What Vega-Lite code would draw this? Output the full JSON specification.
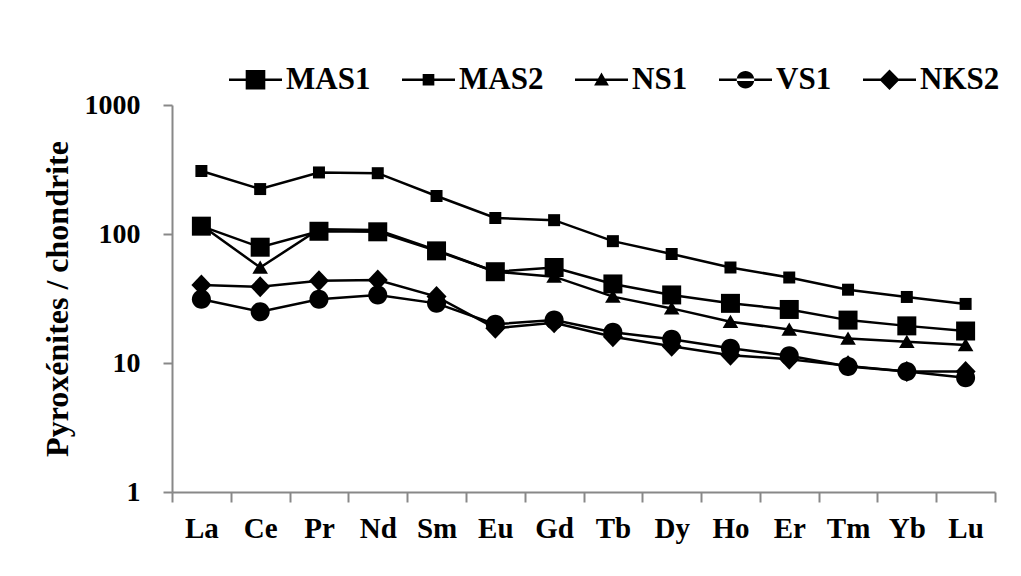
{
  "$schema": "https://vega.github.io/schema/vega-lite/v6.json",
  "width": 823,
  "height": 387,
  "autosize": {"type": "none"},
  "padding": {"left": 172, "top": 105, "right": 26, "bottom": 84},
  "background": "white",
  "config": {
    "view": {"stroke": null},
    "font": "Liberation Serif"
  },
  "data": {
    "values": [
      {"el": "La", "sample": "MAS1", "v": 115}, {"el": "Ce", "sample": "MAS1", "v": 79}, {"el": "Pr", "sample": "MAS1", "v": 105}, {"el": "Nd", "sample": "MAS1", "v": 104}, {"el": "Sm", "sample": "MAS1", "v": 74}, {"el": "Eu", "sample": "MAS1", "v": 51}, {"el": "Gd", "sample": "MAS1", "v": 55}, {"el": "Tb", "sample": "MAS1", "v": 41}, {"el": "Dy", "sample": "MAS1", "v": 33.7}, {"el": "Ho", "sample": "MAS1", "v": 29}, {"el": "Er", "sample": "MAS1", "v": 26}, {"el": "Tm", "sample": "MAS1", "v": 21.5}, {"el": "Yb", "sample": "MAS1", "v": 19.4}, {"el": "Lu", "sample": "MAS1", "v": 17.7},
      {"el": "La", "sample": "MAS2", "v": 308}, {"el": "Ce", "sample": "MAS2", "v": 223}, {"el": "Pr", "sample": "MAS2", "v": 300}, {"el": "Nd", "sample": "MAS2", "v": 296}, {"el": "Sm", "sample": "MAS2", "v": 197}, {"el": "Eu", "sample": "MAS2", "v": 133}, {"el": "Gd", "sample": "MAS2", "v": 128}, {"el": "Tb", "sample": "MAS2", "v": 88}, {"el": "Dy", "sample": "MAS2", "v": 70}, {"el": "Ho", "sample": "MAS2", "v": 55}, {"el": "Er", "sample": "MAS2", "v": 46}, {"el": "Tm", "sample": "MAS2", "v": 37}, {"el": "Yb", "sample": "MAS2", "v": 32.5}, {"el": "Lu", "sample": "MAS2", "v": 28.7},
      {"el": "La", "sample": "NS1", "v": 117}, {"el": "Ce", "sample": "NS1", "v": 55}, {"el": "Pr", "sample": "NS1", "v": 108.7}, {"el": "Nd", "sample": "NS1", "v": 107.4}, {"el": "Sm", "sample": "NS1", "v": 75}, {"el": "Eu", "sample": "NS1", "v": 51}, {"el": "Gd", "sample": "NS1", "v": 46.7}, {"el": "Tb", "sample": "NS1", "v": 32.7}, {"el": "Dy", "sample": "NS1", "v": 26.5}, {"el": "Ho", "sample": "NS1", "v": 20.9}, {"el": "Er", "sample": "NS1", "v": 18.2}, {"el": "Tm", "sample": "NS1", "v": 15.5}, {"el": "Yb", "sample": "NS1", "v": 14.6}, {"el": "Lu", "sample": "NS1", "v": 13.8},
      {"el": "La", "sample": "VS1", "v": 31.2}, {"el": "Ce", "sample": "VS1", "v": 25}, {"el": "Pr", "sample": "VS1", "v": 31.2}, {"el": "Nd", "sample": "VS1", "v": 33.7}, {"el": "Sm", "sample": "VS1", "v": 29}, {"el": "Eu", "sample": "VS1", "v": 20}, {"el": "Gd", "sample": "VS1", "v": 21.5}, {"el": "Tb", "sample": "VS1", "v": 17.3}, {"el": "Dy", "sample": "VS1", "v": 15.3}, {"el": "Ho", "sample": "VS1", "v": 13}, {"el": "Er", "sample": "VS1", "v": 11.4}, {"el": "Tm", "sample": "VS1", "v": 9.4}, {"el": "Yb", "sample": "VS1", "v": 8.6}, {"el": "Lu", "sample": "VS1", "v": 7.7},
      {"el": "La", "sample": "NKS2", "v": 40.2}, {"el": "Ce", "sample": "NKS2", "v": 39}, {"el": "Pr", "sample": "NKS2", "v": 43.5}, {"el": "Nd", "sample": "NKS2", "v": 44}, {"el": "Sm", "sample": "NKS2", "v": 32.7}, {"el": "Eu", "sample": "NKS2", "v": 18.6}, {"el": "Gd", "sample": "NKS2", "v": 20.5}, {"el": "Tb", "sample": "NKS2", "v": 16}, {"el": "Dy", "sample": "NKS2", "v": 13.5}, {"el": "Ho", "sample": "NKS2", "v": 11.5}, {"el": "Er", "sample": "NKS2", "v": 10.7}, {"el": "Tm", "sample": "NKS2", "v": 9.5}, {"el": "Yb", "sample": "NKS2", "v": 8.6}, {"el": "Lu", "sample": "NKS2", "v": 8.6}
    ]
  },
  "encoding": {
    "x": {
      "field": "el", "type": "nominal",
      "sort": ["La", "Ce", "Pr", "Nd", "Sm", "Eu", "Gd", "Tb", "Dy", "Ho", "Er", "Tm", "Yb", "Lu"],
      "scale": {"type": "band", "paddingInner": 0, "paddingOuter": 0},
      "axis": {
        "title": null, "labelAngle": 0, "tickBand": "extent",
        "domainColor": "#888888", "domainWidth": 2, "tickColor": "#888888", "tickWidth": 2, "tickSize": 10,
        "labelFont": "Liberation Serif", "labelFontWeight": "bold", "labelFontSize": 29, "labelColor": "black",
        "labelPadding": 12
      }
    },
    "y": {
      "field": "v", "type": "quantitative",
      "scale": {"type": "log", "domain": [1, 1000], "nice": false},
      "axis": {
        "title": "Pyroxénites / chondrite", "values": [1, 10, 100, 1000], "format": "d", "grid": false,
        "domainColor": "#888888", "domainWidth": 2, "tickColor": "#888888", "tickWidth": 2, "tickSize": 9,
        "labelFont": "Liberation Serif", "labelFontWeight": "bold", "labelFontSize": 28, "labelColor": "black",
        "labelPadding": 23,
        "titleFont": "Liberation Serif", "titleFontWeight": "bold", "titleFontSize": 32, "titleColor": "black",
        "titlePadding": 10
      }
    }
  },
  "layer": [
    {
      "mark": {"type": "line", "color": "black", "strokeWidth": 2.5},
      "encoding": {"detail": {"field": "sample"}}
    },
    {
      "mark": {"type": "point", "filled": true, "color": "black", "opacity": 1, "size": 400, "strokeWidth": 0},
      "encoding": {
        "shape": {
          "field": "sample", "type": "nominal",
          "scale": {
            "domain": ["MAS1", "MAS2", "NS1", "VS1", "NKS2"],
            "range": [
              "M-0.95,-0.95H0.95V0.95H-0.95Z",
              "M-0.6,-0.6H0.6V0.6H-0.6Z",
              "M0,-0.7L0.78,0.62H-0.78Z",
              "M-0.95,0A0.95,0.95 0 1,0 0.95,0A0.95,0.95 0 1,0 -0.95,0Z",
              "M0,-1.05L1,0L0,1.05L-1,0Z"
            ]
          },
          "legend": null
        }
      }
    },
    {
      "transform": [{"filter": "datum.v < 0"}],
      "mark": {"type": "point", "filled": true, "color": "black", "strokeWidth": 0, "opacity": 1, "size": 2809},
      "encoding": {
        "shape": {
          "field": "sample", "type": "nominal",
          "scale": {
            "domain": ["MAS1", "MAS2", "NS1", "VS1", "NKS2"],
            "range": [
              "M-1,-0.048H1V0.048H-1ZM-0.37,-0.37H0.37V0.37H-0.37Z",
              "M-1,-0.048H1V0.048H-1ZM-0.22,-0.22H0.22V0.22H-0.22Z",
              "M-1,-0.048H1V0.048H-1ZM0,-0.27L0.28,0.22H-0.28Z",
              "M-1,-0.048H1V0.048H-1ZM-0.33,0A0.33,0.33 0 1,0 0.33,0A0.33,0.33 0 1,0 -0.33,0Z",
              "M-1,-0.048H1V0.048H-1ZM0,-0.39L0.38,0L0,0.39L-0.38,0Z"
            ]
          },
          "legend": {
            "title": null, "orient": "none", "direction": "horizontal", "columns": 5,
            "legendX": 57, "legendY": -52,
            "columnPadding": 31, "labelOffset": 4, "symbolSize": 2809, "symbolStrokeWidth": 0,
            "symbolFillColor": "black", "symbolOpacity": 1,
            "labelFont": "Liberation Serif", "labelFontWeight": "bold", "labelFontSize": 31, "labelColor": "black", "labelLimit": 300
          }
        }
      }
    }
  ],
  "resolve": {"scale": {"shape": "independent"}, "legend": {"shape": "independent"}}
}
